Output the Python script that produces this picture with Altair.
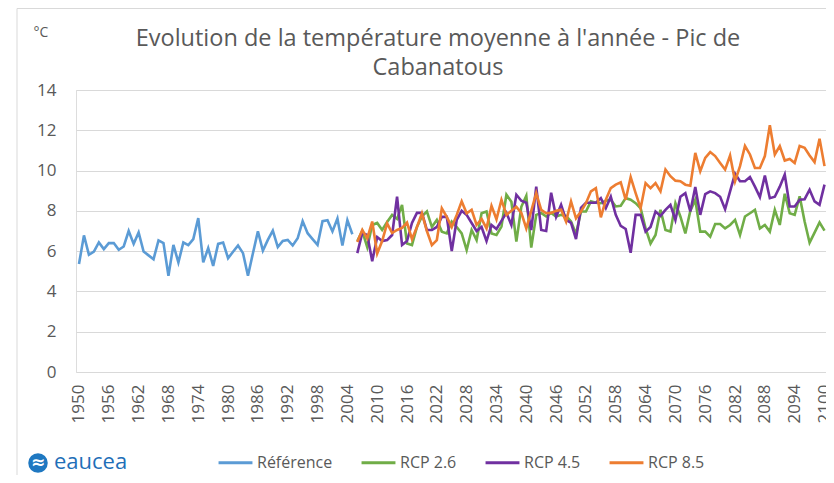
import altair as alt
import pandas as pd

ref_years = list(range(1950, 2006))
ref_values = [5.36, 6.78, 5.82, 5.98, 6.43, 6.1, 6.4, 6.4, 6.07, 6.23,
              7.0, 6.36, 6.93, 5.98, 5.79, 5.6, 6.53, 6.4, 4.78, 6.31,
              5.44, 6.43, 6.3, 6.6, 7.64, 5.44, 6.15, 5.27, 6.36, 6.43,
              5.65, 5.97, 6.28, 5.9, 4.78, 5.9, 6.99, 6.03, 6.56, 7.02,
              6.2, 6.51, 6.56, 6.28, 6.64, 7.49, 6.89, 6.6, 6.31, 7.49,
              7.54, 6.98, 7.62, 6.28, 7.54, 6.84]

rcp_years = list(range(2006, 2101))
rcp26 = [6.5, 7.0, 6.2, 7.3, 7.4, 7.05, 7.45, 7.8, 7.6, 8.3,
         6.38, 6.3, 7.2, 7.72, 7.97, 7.2, 7.55, 6.97, 6.88, 7.47,
         7.2, 6.88, 6.05, 7.05,
         6.55, 7.88, 7.97, 6.88, 6.8, 7.22, 8.8, 8.45, 6.47, 8.2,
         8.75, 6.18, 7.8, 7.9, 7.72, 7.9, 7.72,
         7.8, 7.75, 7.47, 6.85, 7.97, 7.97, 8.47, 8.4, 8.38, 8.5,
         8.55, 8.22, 8.25, 8.63, 8.55, 8.38, 8.13,
         7.13, 6.38, 6.8, 8.05, 7.05, 6.97, 8.38, 7.72, 6.88, 8.0,
         8.55, 6.97, 6.97, 6.72, 7.35, 7.35, 7.13, 7.3, 7.55, 6.8,
         7.72, 7.88, 8.05, 7.13, 7.3, 6.97, 8.05, 7.3, 8.85, 7.88,
         7.8, 8.72, 7.47, 6.42, 6.92, 7.42, 7.02]
rcp45 = [5.9, 6.9, 6.8, 5.5, 6.7, 6.5, 6.55, 6.8, 8.7, 6.3,
         6.5, 7.4, 7.9, 7.9, 7.05, 7.05, 7.2, 7.7, 7.7, 6.0,
         7.55, 8.0, 7.8, 7.4, 7.0, 7.2, 6.5, 7.3, 7.1, 7.5,
         7.9, 7.3,
         8.8, 8.5, 8.4, 7.05, 9.2, 7.05, 7.0, 8.9, 7.7, 8.3,
         7.55, 7.4, 6.6, 8.15, 8.4, 8.4, 8.4,
         8.63, 8.13, 8.7, 7.8, 7.25, 7.1, 5.92, 7.8, 7.8, 6.97,
         7.2, 7.97, 7.75, 8.05, 8.3, 7.55, 8.7, 8.88, 7.97, 9.18,
         7.8, 8.83, 8.97, 8.88, 8.7, 8.08, 8.97, 9.85, 9.47, 9.47,
         9.68, 9.2, 8.68, 9.75, 8.63, 8.7, 9.2, 9.8, 8.22, 8.22,
         8.55, 8.58, 9.05, 8.47, 8.3, 9.3]
rcp85 = [6.45, 7.05, 6.63, 7.47, 5.88, 6.5, 7.38, 6.9, 7.05, 7.15,
         7.42, 6.6, 7.2, 7.88, 7.0, 6.3, 6.55, 8.13, 7.7, 7.2,
         7.8, 8.47, 7.88, 8.05, 7.3, 7.6, 7.13, 8.25, 7.58, 8.55,
         7.8, 8.0, 8.2, 7.9, 7.13, 8.0, 8.88, 8.05, 7.88, 7.9, 8.0,
         8.05, 7.47, 8.47, 7.63, 7.97, 8.38, 8.97, 9.13,
         7.68, 8.55, 9.13, 9.3, 9.42, 8.55, 9.68, 8.88, 8.13, 9.38,
         9.13, 9.38, 8.97, 10.05, 9.72, 9.5, 9.47, 9.3, 9.25, 10.88,
         9.97, 10.63, 10.92, 10.72, 10.38, 10.05, 10.75, 9.47, 10.22, 11.22,
         10.8, 10.13, 10.13, 10.72, 12.25, 10.8, 11.22, 10.5, 10.58, 10.38,
         11.22, 11.13, 10.75, 10.42, 11.58, 10.22]

tick_years = list(range(1950, 2101, 6))
y_ticks = list(range(0, 15, 2))
series_names = ["Référence", "RCP 2.6", "RCP 4.5", "RCP 8.5"]
series_colors = ["#5b9bd5", "#70ad47", "#7030a0", "#ed7d31"]
title_lines = ["Evolution de la température moyenne à l'année - Pic de", "Cabanatous"]
unit_label = "°C"
logo_text = "eaucea"

rows = []
for yr, v in zip(ref_years, ref_values):
    rows.append({"year": yr, "value": v, "series": series_names[0], "o": 0})
for k, vals in enumerate([rcp26, rcp45, rcp85], start=1):
    for yr, v in zip(rcp_years, vals):
        rows.append({"year": yr, "value": v, "series": series_names[k], "o": k})
df = pd.DataFrame(rows)

GREY = "#595959"
FONT = "Open Sans"
W, H = 750, 282

lines = alt.Chart(df).mark_line(strokeWidth=2.6, clip=True).encode(
    x=alt.X("year:Q",
            scale=alt.Scale(domain=[1949.4, 2100.3], nice=False, zero=False),
            axis=alt.Axis(values=tick_years, format="d", labelAngle=-90,
                          labelFontSize=17, labelFont=FONT, labelColor=GREY,
                          labelPadding=12, ticks=False, grid=False, domain=False,
                          labelOverlap=False, labelFlush=False, title=None)),
    y=alt.Y("value:Q",
            scale=alt.Scale(domain=[0, 14], nice=False),
            axis=alt.Axis(values=y_ticks, grid=True, gridColor="#d9d9d9",
                          gridWidth=1, domain=False, ticks=False,
                          labelFontSize=17, labelFont=FONT, labelColor=GREY,
                          labelPadding=20, title=None)),
    color=alt.Color("series:N",
                    scale=alt.Scale(domain=series_names, range=series_colors),
                    sort=series_names,
                    legend=alt.Legend(orient="none", direction="horizontal",
                                      legendX=141, legendY=354, title=None,
                                      symbolType="stroke", symbolSize=1150,
                                      symbolStrokeWidth=3, labelFontSize=16,
                                      labelFont=FONT, labelColor=GREY,
                                      labelOffset=3, columnPadding=22,
                                      labelBaseline="middle")),
    order=alt.Order("o:Q"),
    detail="series:N",
)

title1 = alt.Chart(pd.DataFrame({"t": [title_lines[0]]})).mark_text(
    fontSize=23.5, font=FONT, color=GREY, align="center", baseline="middle"
).encode(x=alt.value(362), y=alt.value(-51), text="t:N")
title2 = alt.Chart(pd.DataFrame({"t": [title_lines[1]]})).mark_text(
    fontSize=23.5, font=FONT, color=GREY, align="center", baseline="middle"
).encode(x=alt.value(362), y=alt.value(-22), text="t:N")
unit = alt.Chart(pd.DataFrame({"t": [unit_label]})).mark_text(
    fontSize=14, font=FONT, color=GREY, align="center", baseline="middle"
).encode(x=alt.value(-35), y=alt.value(-57), text="t:N")

frame_df = pd.DataFrame({"a": [0]})
frame_left = alt.Chart(frame_df).mark_rule(color="#d9d9d9", strokeWidth=1).encode(
    x=alt.value(-59), y=alt.value(-81.5), y2=alt.value(390))
frame_top = alt.Chart(frame_df).mark_rule(color="#d9d9d9", strokeWidth=1).encode(
    x=alt.value(-59), x2=alt.value(760), y=alt.value(-81.5))

logo_circle = alt.Chart(frame_df).mark_point(filled=True, shape="circle", size=380,
                                             color="#1f78c1", opacity=1).encode(
    x=alt.value(-38), y=alt.value(373))
logo_wave = alt.Chart(pd.DataFrame({"t": ["≈"]})).mark_text(
    fontSize=17, font="DejaVu Sans", color="white", fontWeight="bold",
    align="center", baseline="middle").encode(x=alt.value(-38), y=alt.value(373), text="t:N")
logo = alt.Chart(pd.DataFrame({"t": [logo_text]})).mark_text(
    fontSize=22, font=FONT, color="#1f6fb8", align="left", baseline="middle"
).encode(x=alt.value(-22), y=alt.value(372), text="t:N")

chart = alt.layer(frame_left, frame_top, lines, title1, title2, unit,
                  logo_circle, logo_wave, logo).properties(
    width=W, height=H,
    autosize=alt.AutoSizeParams(type="none"),
    padding={"left": 68, "top": 82, "right": 0, "bottom": 103},
).configure_view(stroke=None).configure(background="white")

chart.save("out.html", embed_options={"renderer": "svg", "actions": False})
